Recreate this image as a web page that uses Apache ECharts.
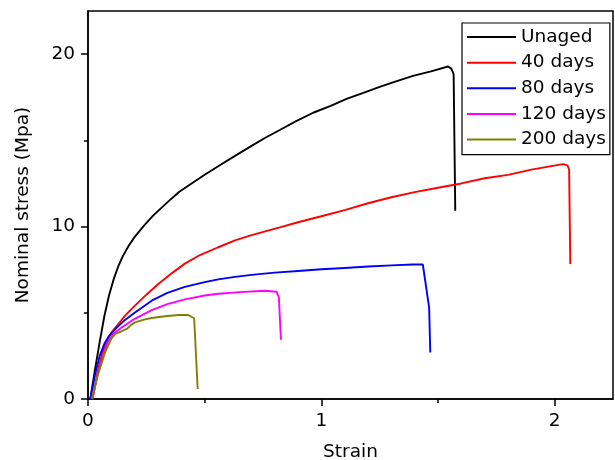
<!DOCTYPE html>
<html>
<head>
<meta charset="utf-8">
<script src="https://cdn.jsdelivr.net/npm/echarts@6/dist/echarts.min.js"></script>
<style>html,body{margin:0;padding:0;background:#fff}#c{width:615px;height:460px}</style>
</head>
<body>
<div id="c"></div>
<script>
var seriesNames = ['Unaged', '40 days', '80 days', '120 days', '200 days'];
var seriesColors = ['#000000', '#ff0000', '#0000ff', '#ff00ff', '#808000'];
var xMajorTicks = [0, 1, 2];
var xMinorTicks = [0.5, 1.5];
var yMajorTicks = [0, 10, 20];
var yMinorTicks = [5, 15];

var unaged = [[0.01,0],[0.03,1.7],[0.05,3.3],[0.07,4.8],[0.09,6.0],[0.11,6.95],[0.13,7.7],[0.15,8.3],[0.175,8.9],[0.2,9.4],[0.24,10.05],[0.28,10.65],[0.34,11.4],[0.39,12.0],[0.444,12.5],[0.5,13.0],[0.558,13.5],[0.63,14.1],[0.701,14.68],[0.76,15.15],[0.822,15.6],[0.89,16.1],[0.965,16.6],[1.04,17.0],[1.108,17.4],[1.18,17.75],[1.25,18.1],[1.32,18.42],[1.393,18.74],[1.47,19.0],[1.543,19.28],[1.557,19.16],[1.567,18.84],[1.574,10.92]];
var days40 = [[0.02,0],[0.04,1.5],[0.06,2.6],[0.08,3.35],[0.1,3.85],[0.13,4.35],[0.16,4.85],[0.2,5.4],[0.25,6.05],[0.3,6.65],[0.36,7.3],[0.415,7.85],[0.48,8.35],[0.558,8.8],[0.63,9.2],[0.701,9.5],[0.822,9.95],[0.9,10.25],[1.0,10.6],[1.1,10.95],[1.2,11.35],[1.3,11.7],[1.4,12.0],[1.5,12.25],[1.6,12.5],[1.7,12.8],[1.8,13.0],[1.9,13.3],[2.035,13.62],[2.055,13.55],[2.062,13.3],[2.067,7.83]];
var days80 = [[0.01,0],[0.03,1.4],[0.05,2.5],[0.07,3.2],[0.09,3.65],[0.12,4.1],[0.16,4.6],[0.2,5.0],[0.273,5.7],[0.34,6.15],[0.415,6.5],[0.5,6.78],[0.558,6.94],[0.63,7.08],[0.701,7.2],[0.8,7.33],[0.915,7.44],[1.0,7.52],[1.1,7.6],[1.2,7.68],[1.3,7.75],[1.39,7.8],[1.435,7.8],[1.462,5.3],[1.467,2.7]];
var days120 = [[0.018,0],[0.04,1.3],[0.06,2.3],[0.085,3.3],[0.11,3.8],[0.15,4.2],[0.2,4.65],[0.273,5.15],[0.34,5.5],[0.415,5.78],[0.5,6.0],[0.558,6.1],[0.65,6.2],[0.758,6.28],[0.808,6.22],[0.818,5.9],[0.827,3.44]];
var days200 = [[0.016,0],[0.04,1.3],[0.073,2.7],[0.1,3.5],[0.116,3.77],[0.14,3.9],[0.166,4.06],[0.185,4.3],[0.201,4.44],[0.24,4.6],[0.273,4.7],[0.33,4.8],[0.387,4.87],[0.43,4.87],[0.455,4.68],[0.47,0.58]];
var allData = [unaged, days40, days80, days120, days200];

var font = 'DejaVu Sans';
var chart = echarts.init(document.getElementById('c'), null, {renderer: 'canvas'});
var series = seriesNames.map(function (n, i) {
  return {
    name: n, type: 'line', data: allData[i], symbol: 'none', smooth: false,
    xAxisIndex: 0, yAxisIndex: 0,
    lineStyle: {color: seriesColors[i], width: 1.9},
    itemStyle: {color: seriesColors[i]},
    animation: false
  };
});
var option = {
  backgroundColor: '#fff',
  animation: false,
  grid: {left: 88, right: 2, top: 11, bottom: 61, show: true, borderColor: '#000', borderWidth: 1.5, backgroundColor: 'transparent', containLabel: false, outerBoundsMode: 'none'},
  legend: {
    data: seriesNames, orient: 'vertical', left: 462, top: 23, icon: 'rect',
    padding: [4, 4, 5, 5], itemGap: 5.65, itemWidth: 49, itemHeight: 2,
    borderColor: '#000', borderWidth: 1.2, backgroundColor: '#fff',
    textStyle: {fontFamily: font, fontSize: 18.5, color: '#000', lineHeight: 20}
  },
  xAxis: [{
    type: 'value', min: 0, max: 2.25, position: 'bottom',
    name: 'Strain', nameLocation: 'middle', nameGap: 44,
    nameTextStyle: {fontFamily: font, fontSize: 18.5, color: '#000'},
    axisLine: {show: true, onZero: false, lineStyle: {color: '#000', width: 1.5}},
    axisTick: {show: true, inside: false, length: 7, customValues: xMajorTicks, lineStyle: {color: '#000', width: 1.5}},
    axisLabel: {customValues: xMajorTicks, margin: 13, fontFamily: font, fontSize: 18.5, color: '#000'},
    splitLine: {show: false}
  }, {
    type: 'value', min: 0, max: 2.25, position: 'bottom',
    axisLine: {show: false},
    axisTick: {show: true, inside: false, length: 4, customValues: xMinorTicks, lineStyle: {color: '#000', width: 1.5}},
    axisLabel: {show: false},
    splitLine: {show: false}
  }],
  yAxis: [{
    type: 'value', min: 0, max: 22.5, position: 'left',
    name: 'Nominal stress (Mpa)', nameLocation: 'middle', nameGap: 55, nameRotate: 90,
    nameTextStyle: {fontFamily: font, fontSize: 18.5, color: '#000'},
    axisLine: {show: true, onZero: false, lineStyle: {color: '#000', width: 1.5}},
    axisTick: {show: true, inside: false, length: 7, customValues: yMajorTicks, lineStyle: {color: '#000', width: 1.5}},
    axisLabel: {customValues: yMajorTicks, margin: 13, fontFamily: font, fontSize: 18.5, color: '#000'},
    splitLine: {show: false}
  }, {
    type: 'value', min: 0, max: 22.5, position: 'left',
    axisLine: {show: false},
    axisTick: {show: true, inside: false, length: 4, customValues: yMinorTicks, lineStyle: {color: '#000', width: 1.5}},
    axisLabel: {show: false},
    splitLine: {show: false}
  }],
  series: series
};
chart.setOption(option);
</script>
</body>
</html>
